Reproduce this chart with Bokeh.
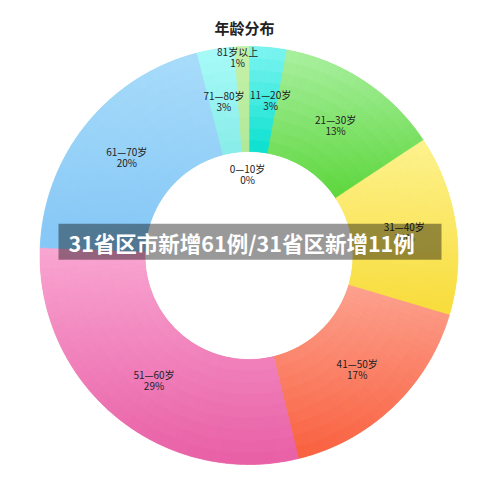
import math
from bokeh.plotting import figure
from bokeh.models import Range1d, ColumnDataSource
from bokeh.core.properties import value
from bokeh.embed import file_html
from bokeh.resources import INLINE

# ---- data ----
categories = ["0—10岁", "11—20岁", "21—30岁", "31—40岁", "41—50岁",
              "51—60岁", "61—70岁", "71—80岁", "81岁以上"]
shares = [0.0, 2.9, 12.8, 13.9, 16.6, 29.4, 20.4, 2.9, 1.1]
pct_labels = ["0%", "3%", "13%", "14%", "17%", "29%", "20%", "3%", "1%"]
colors = ["#c8f2b8", "#3fe9de", "#8ce274", "#fbe96a", "#fb8168",
          "#f288bf", "#97d3f8", "#93f1ee", "#c4efaa"]
# gradient ends (top, bottom) for each slice
colors_top = ["#c8f2b8", "#80f5f2", "#aaf0a0", "#fdf28e", "#fca290",
              "#f9a6d2", "#a8dcfa", "#a8fbf8", "#c6f2aa"]
colors_bottom = ["#c8f2b8", "#08e0ce", "#5cd63c", "#f8dc3a", "#f9603e",
                 "#e85ea5", "#84c6f6", "#88ece8", "#b0e898"]
title_text = "年龄分布"
banner_text = "31省区市新增61例/31省区新增11例"

# ---- layout ----
W, H = 500, 483
cx, cy = 248.5, 228.0
R_OUT, R_IN = 209.0, 104.0
FONT = "Noto Sans CJK SC"


def hex2rgb(h):
    h = h.lstrip("#")
    return tuple(int(h[i:i + 2], 16) for i in (0, 2, 4))


def mix(c1, c2, t):
    a, b = hex2rgb(c1), hex2rgb(c2)
    t = max(0.0, min(1.0, t))
    return "#%02x%02x%02x" % tuple(int(round(a[i] + (b[i] - a[i]) * t)) for i in range(3))


p = figure(width=W, height=H, output_backend="svg", toolbar_location=None,
           x_range=Range1d(0, W), y_range=Range1d(0, H), min_border=0)
p.axis.visible = False
p.grid.visible = False
p.outline_line_color = None
p.background_fill_color = "white"
p.border_fill_color = "white"

total = sum(shares)
deg0, deg1, mids = [], [], []
acc = 0.0
for s in shares:
    a0 = acc / total * 360.0
    acc += s
    a1 = acc / total * 360.0
    deg0.append(a0)
    deg1.append(a1)
    mids.append((a0 + a1) / 2)

# base slices (one per category)
src = ColumnDataSource(dict(
    x=[cx] * len(shares), y=[cy] * len(shares),
    start=[math.radians(90 - a) for a in deg0],
    end=[math.radians(90 - a) for a in deg1],
    color=colors, name=categories))
p.annular_wedge(x="x", y="y", inner_radius=R_IN, outer_radius=R_OUT,
                start_angle="start", end_angle="end", direction="clock",
                fill_color="color", line_color=None, source=src)

# vertical gradient shading of each slice, built from small sub-wedges
gx, gy, gs, ge, gri, gro, gc = [], [], [], [], [], [], []
K = 9
for i in range(len(shares)):
    a0, a1 = deg0[i], deg1[i]
    if a1 - a0 <= 0:
        continue
    # vertical extent of the slice
    ys = []
    n = max(2, int((a1 - a0) / 1.0) + 1)
    for j in range(n + 1):
        a = math.radians(90 - (a0 + (a1 - a0) * j / n))
        for r in (R_IN, R_OUT):
            ys.append(cy + r * math.sin(a))
    ytop, ybot = max(ys), min(ys)
    steps = max(1, int(math.ceil((a1 - a0) / 2.0)))
    for j in range(steps):
        b0 = a0 + (a1 - a0) * j / steps
        b1 = a0 + (a1 - a0) * (j + 1) / steps
        bm = math.radians(90 - (b0 + b1) / 2)
        for k in range(K):
            r0 = R_IN + (R_OUT - R_IN) * k / K
            r1 = R_IN + (R_OUT - R_IN) * (k + 1) / K
            yc = cy + (r0 + r1) / 2 * math.sin(bm)
            t = (ytop - yc) / (ytop - ybot) if ytop > ybot else 0.5
            gx.append(cx)
            gy.append(cy)
            gs.append(math.radians(90 - b0))
            ge.append(math.radians(90 - b1))
            gri.append(r0)
            gro.append(r1)
            gc.append(mix(colors_top[i], colors_bottom[i], t))

gsrc = ColumnDataSource(dict(x=gx, y=gy, start=gs, end=ge, ri=gri, ro=gro, color=gc))
p.annular_wedge(x="x", y="y", inner_radius="ri", outer_radius="ro",
                start_angle="start", end_angle="end", direction="clock",
                fill_color="color", line_color="color", line_width=0.6,
                source=gsrc)

# label placement tweaks (radius, angle nudge in degrees)
lab_r = [82, 157, 157, 157, 157, 157, 157, 157, 199]
lab_nudge = [-1, 2.7, 0, 0, 0, -2, 0, 0, -1.3]
lx, ly = [], []
for m, r, n in zip(mids, lab_r, lab_nudge):
    a = math.radians(90 - (m + n))
    lx.append(cx + r * math.cos(a))
    ly.append(cy + r * math.sin(a))
lsrc = ColumnDataSource(dict(x=lx, y=ly, name=categories, pct=pct_labels))
p.text(x="x", y="y", text="name", source=lsrc, y_offset=-5.5,
       text_font=value(FONT), text_font_size="10px", text_color="#222222",
       text_align="center", text_baseline="middle")
p.text(x="x", y="y", text="pct", source=lsrc, y_offset=5.5,
       text_font=value(FONT), text_font_size="10px", text_color="#222222",
       text_align="center", text_baseline="middle")

# title
p.text(x=[244], y=[456], text=[title_text], text_font=value(FONT),
       text_font_size="15px", text_font_style="bold", text_color="#222222",
       text_align="center", text_baseline="middle")

# banner overlay
p.quad(left=[58], right=[441], bottom=[223.7], top=[259.7],
       fill_color="black", fill_alpha=0.4, line_color=None)
p.text(x=[68], y=[241.5], text=[banner_text], text_font=value(FONT),
       text_font_size="21.5px", text_font_style="bold", text_color="white",
       text_align="left", text_baseline="middle")

open("out.html", "w").write(file_html(p, INLINE))
